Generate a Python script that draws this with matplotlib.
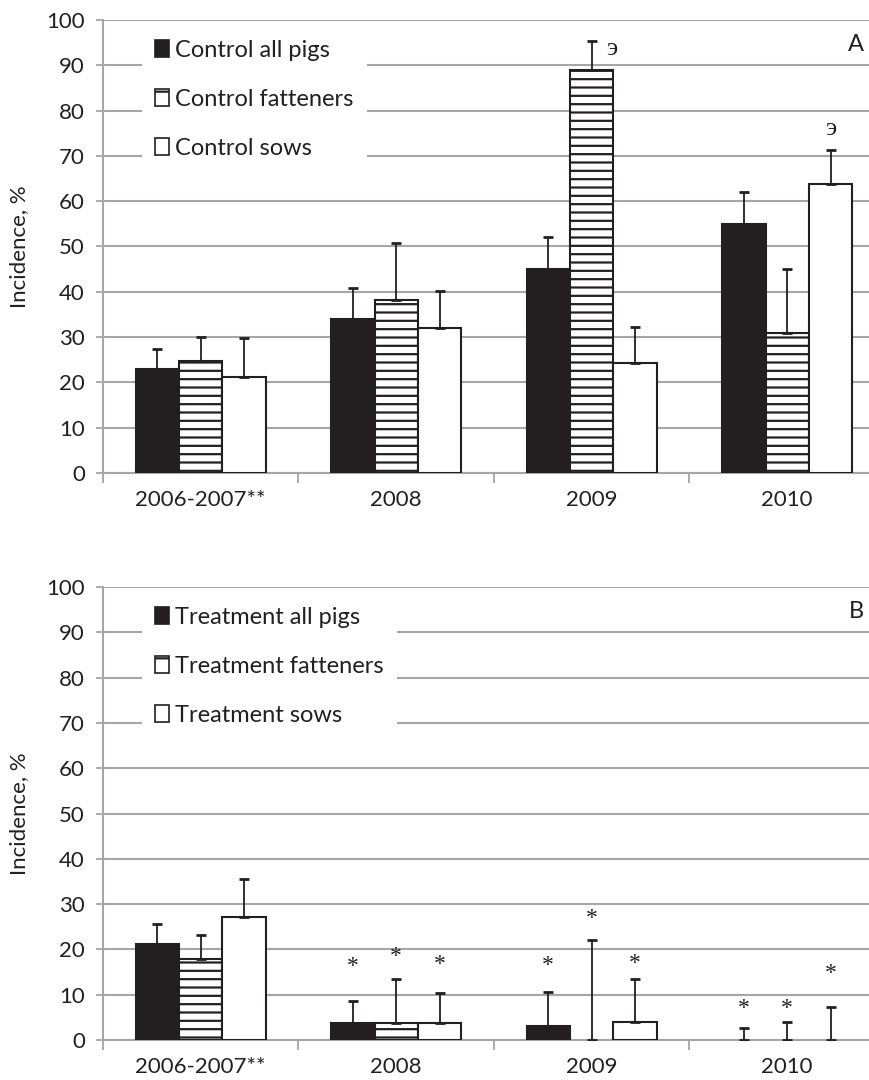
import matplotlib.pyplot as plt
from matplotlib.patches import Patch
import numpy as np

plt.rcParams['font.family'] = ['Lato', 'DejaVu Sans']
plt.rcParams['hatch.linewidth'] = 1.6

years = ['2006-2007**', '2008', '2009', '2010']

# panel A - control
ctrl_all = [23.0, 34.0, 45.1, 55.0]
ctrl_all_err = [4.4, 6.9, 7.0, 7.0]
ctrl_fat = [24.8, 38.3, 89.0, 30.8]
ctrl_fat_err = [5.2, 12.4, 6.4, 14.3]
ctrl_sow = [21.3, 31.9, 24.3, 63.7]
ctrl_sow_err = [8.4, 8.3, 8.0, 7.6]

# panel B - treatment
trt_all = [21.1, 3.8, 3.2, 0.0]
trt_all_err = [4.5, 4.9, 7.4, 2.6]
trt_fat = [17.8, 3.8, 0.0, 0.0]
trt_fat_err = [5.4, 9.6, 22.0, 4.0]
trt_sow = [27.1, 3.7, 4.0, 0.0]
trt_sow_err = [8.4, 6.7, 9.4, 7.3]

# significance marks (height of each mark)
ctrl_marks = [(2, 1, 'э', 93.5), (3, 2, 'э', 76.0)]
trt_star_y = [[None, 16.2, 16.5, 7.0],
              [None, 18.5, 26.9, 7.0],
              [None, 16.7, 16.9, 14.7]]

labels_a = ['Control all pigs', 'Control fatteners', 'Control sows']
labels_b = ['Treatment all pigs', 'Treatment fatteners', 'Treatment sows']

grid_c = '#A6A6A6'
ink = '#231F20'
w = 0.2225
x = np.arange(len(years))

fig = plt.figure(figsize=(8.7, 10.8), dpi=100)
ax_a = fig.add_axes([103/870, 1-473/1080, 782/870, 453/1080])
ax_b = fig.add_axes([103/870, 1-1040/1080, 782/870, 453/1080])


def draw_panel(ax, series, errs, labels, letter):
    styles = [dict(facecolor=ink, edgecolor=ink),
              dict(facecolor='white', edgecolor=ink, hatch='--'),
              dict(facecolor='white', edgecolor=ink)]
    for i, (vals, err, st) in enumerate(zip(series, errs, styles)):
        pos = x + (i - 1) * w
        vals = np.array(vals)
        ax.bar(pos, np.where(vals > 0, vals, np.nan), w, linewidth=1.5, zorder=3, **st)
        ax.errorbar(pos, vals, yerr=[np.zeros(len(vals)), err], fmt='none',
                    ecolor=ink, elinewidth=1.3, capsize=3.8, capthick=2.0, zorder=4)
    ax.set_xlim(-0.5, 3.5)
    ax.set_ylim(0, 100)
    ax.set_yticks(range(0, 101, 10))
    ax.set_xticks([-0.5, 0.5, 1.5, 2.5, 3.5])
    ax.set_xticklabels([])
    ax.set_xticks(x, minor=True)
    ax.set_xticklabels(years, minor=True)
    ax.tick_params(axis='x', which='major', length=7, width=1.3, color=grid_c)
    ax.tick_params(axis='x', which='minor', length=0, pad=12, labelsize=16, labelcolor=ink)
    ax.tick_params(axis='y', length=5, width=1.3, color=grid_c, pad=8, labelsize=16,
                   labelcolor=ink)
    for s in ['top', 'right']:
        ax.spines[s].set_visible(False)
    for s in ['left', 'bottom']:
        ax.spines[s].set_color(grid_c)
        ax.spines[s].set_linewidth(1.5)
    ax.yaxis.grid(True, color=grid_c, linewidth=1.5)
    ax.set_axisbelow(True)
    ax.set_ylabel('Incidence, %', fontsize=16, color=ink)
    ax.yaxis.set_label_coords(-(103 - 29) / 782, 0.5)

    handles = [Patch(facecolor=ink, edgecolor=ink, linewidth=1.2),
               Patch(facecolor='white', edgecolor=ink, hatch='-', linewidth=1.2),
               Patch(facecolor='white', edgecolor=ink, linewidth=1.2)]
    leg = ax.legend(handles, labels, loc='upper left', bbox_to_anchor=(0.05, 0.985),
                    fontsize=17, frameon=True, fancybox=False, framealpha=1,
                    edgecolor='none', facecolor='white', handlelength=0.6,
                    handleheight=0.75, handletextpad=0.25, labelspacing=1.18,
                    borderpad=0.55, borderaxespad=0)
    for t in leg.get_texts():
        t.set_color(ink)
    ax.text(0.963, 0.947, letter, transform=ax.transAxes, fontsize=17,
            ha='center', va='center', color=ink)


draw_panel(ax_a, [ctrl_all, ctrl_fat, ctrl_sow],
           [ctrl_all_err, ctrl_fat_err, ctrl_sow_err], labels_a, 'A')
draw_panel(ax_b, [trt_all, trt_fat, trt_sow],
           [trt_all_err, trt_fat_err, trt_sow_err], labels_b, 'B')

for cat, ser, mark, yv in ctrl_marks:
    dx = 0.1 if ser == 1 else 0.0
    ax_a.text(x[cat] + (ser - 1) * w + dx, yv, mark, ha='center', va='center',
              fontsize=19, family='Liberation Serif', color=ink)

for ser, ys in enumerate(trt_star_y):
    for cat, yv in enumerate(ys):
        if yv is None:
            continue
        ax_b.text(x[cat] + (ser - 1) * w, yv, '*', ha='center', va='center',
                  fontsize=17, family='Liberation Serif', color=ink)

fig.savefig('out.png', dpi=100)
